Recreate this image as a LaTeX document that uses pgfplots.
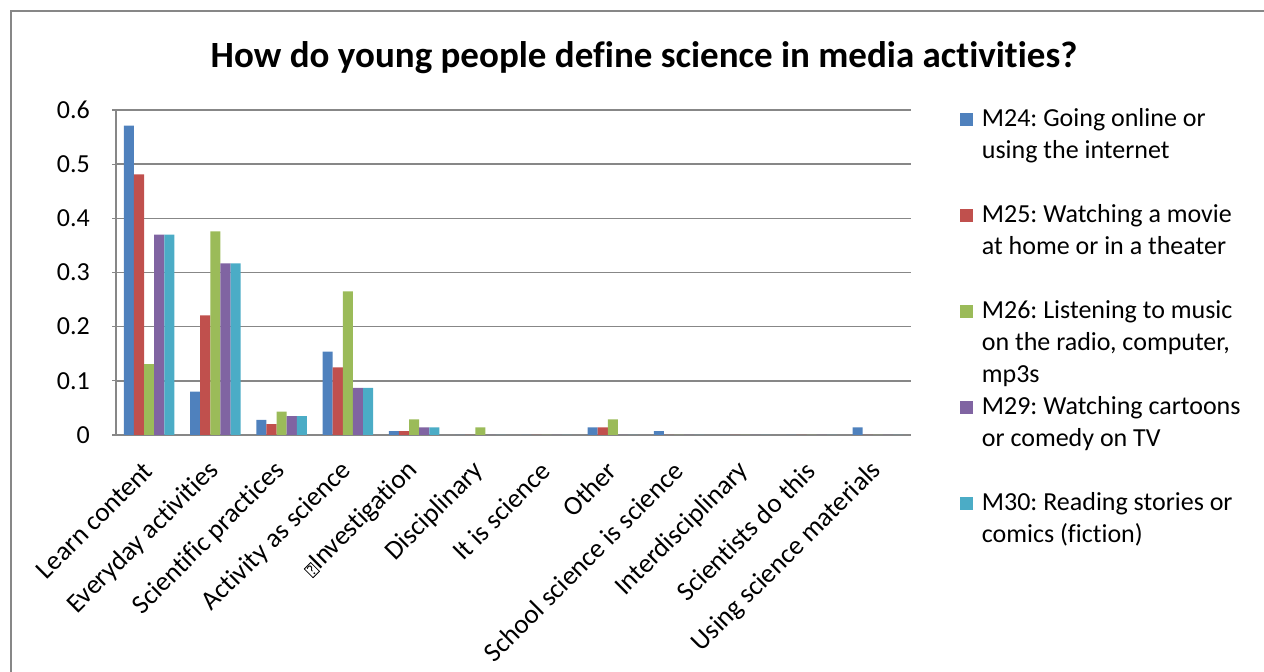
\documentclass[border=0pt]{standalone}
\usepackage{pgfplots}
\pgfplotsset{compat=1.18}
\usepackage{fontspec}
\setmainfont{Carlito}[Ligatures=NoCommon]
\frenchspacing
\definecolor{cA}{HTML}{4F81BD}
\definecolor{cB}{HTML}{C0504D}
\definecolor{cC}{HTML}{9BBB59}
\definecolor{cD}{HTML}{8064A2}
\definecolor{cE}{HTML}{4BACC6}
\definecolor{gridc}{HTML}{878787}
\newcommand\qbox{{\fboxsep=0.6bp\fboxrule=0.8bp\raisebox{0.5bp}{\fbox{\fontsize{15bp}{15bp}\selectfont ?}}}}
\begin{document}
\begin{tikzpicture}[x=1bp,y=1bp]
\useasboundingbox (0,0) rectangle (1264,672);
\draw[gridc, line width=1.6bp] (11,0) -- (11,661) -- (1264,661);
\node[anchor=base, font=\fontsize{37bp}{42bp}\selectfont\bfseries] at (644,604) {How do young people define science in media activities?};
\begin{axis}[
  at={(116bp,237bp)}, anchor=south west,
  width=795bp, height=325bp, scale only axis,
  ymin=0, ymax=0.6, xmin=-0.5, xmax=11.5,
  ytick={0,0.1,0.2,0.3,0.4,0.5,0.6},
  yticklabels={0,0.1,0.2,0.3,0.4,0.5,0.6},
  xtick={0,1,2,3,4,5,6,7,8,9,10,11},
  xticklabels={Learn content,Everyday activities,Scientific practices,Activity as science,\qbox Investigation,Disciplinary,It is science,Other,School science is science,Interdisciplinary,Scientists do this,Using science materials},
  axis x line*=bottom, axis y line*=left,
  axis line style={gridc, line width=1.6bp, -},
  ymajorgrids, grid style={gridc, line width=1.6bp},
  tick align=outside,
  major tick length=4bp,
  tick style={gridc, line width=1.2bp},
  x tick style={draw=none},
  yticklabel style={font=\fontsize{26bp}{30bp}\selectfont, inner sep=0pt, xshift=-22bp},
  xticklabel style={font=\fontsize{27bp}{30bp}\selectfont, rotate=45, anchor=east, inner sep=0pt, xshift=-20bp, yshift=-19bp},
  ybar=0pt, bar width=10.1bp,
  legend style={at={(1.0612,1.0108)}, anchor=north west, draw=none, fill=none,
    inner sep=0pt, row sep=0pt, column sep=9bp,
    font=\fontsize{26bp}{32bp}\selectfont},
  legend cell align=left,
  legend style={nodes={inner sep=0pt, anchor=base west, text height=20bp, text depth=12bp}},
  legend image code/.code={\fill[#1] (0bp,1bp) rectangle (13bp,14bp);},
]
\addplot[fill=cA, draw=none, bar shift=-20.2bp] coordinates {(0,0.571) (1,0.080) (2,0.028) (3,0.154) (4,0.007) (5,0) (6,0) (7,0.014) (8,0.007) (9,0) (10,0) (11,0.014)};
\addlegendentry{M24: Going online or}
\addlegendimage{empty legend}\addlegendentry{using the internet}
\addlegendimage{empty legend}\addlegendentry{}
\addplot[fill=cB, draw=none, bar shift=-10.1bp] coordinates {(0,0.481) (1,0.221) (2,0.020) (3,0.125) (4,0.007) (5,0) (6,0) (7,0.014) (8,0) (9,0) (10,0) (11,0)};
\addlegendentry{M25: Watching a movie}
\addlegendimage{empty legend}\addlegendentry{at home or in a theater}
\addlegendimage{empty legend}\addlegendentry{}
\addplot[fill=cC, draw=none, bar shift=0bp] coordinates {(0,0.131) (1,0.376) (2,0.043) (3,0.265) (4,0.029) (5,0.014) (6,0) (7,0.029) (8,0) (9,0) (10,0) (11,0)};
\addlegendentry{M26: Listening to music}
\addlegendimage{empty legend}\addlegendentry{on the radio, computer,}
\addlegendimage{empty legend}\addlegendentry{mp3s}
\addplot[fill=cD, draw=none, bar shift=10.1bp] coordinates {(0,0.370) (1,0.317) (2,0.035) (3,0.087) (4,0.014) (5,0) (6,0) (7,0) (8,0) (9,0) (10,0) (11,0)};
\addlegendentry{M29: Watching cartoons}
\addlegendimage{empty legend}\addlegendentry{or comedy on TV}
\addlegendimage{empty legend}\addlegendentry{}
\addplot[fill=cE, draw=none, bar shift=20.2bp] coordinates {(0,0.370) (1,0.317) (2,0.035) (3,0.087) (4,0.014) (5,0) (6,0) (7,0) (8,0) (9,0) (10,0) (11,0)};
\addlegendentry{M30: Reading stories or}
\addlegendimage{empty legend}\addlegendentry{comics (fiction)}
\end{axis}
\end{tikzpicture}
\end{document}
